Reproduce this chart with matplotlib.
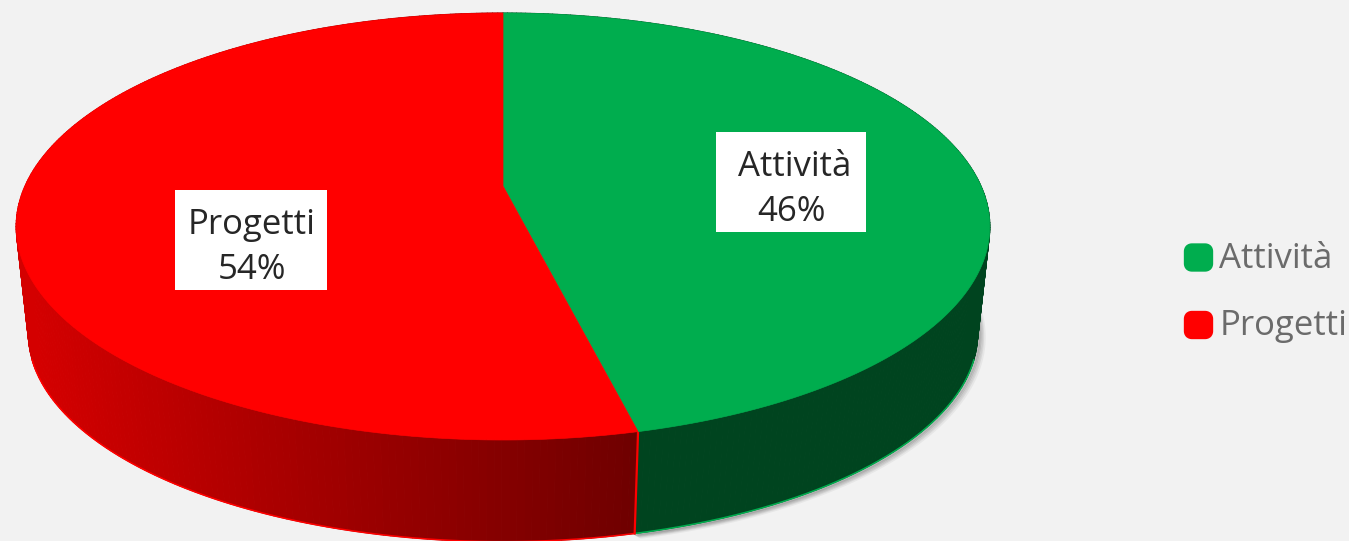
import numpy as np
import matplotlib
matplotlib.use("Agg")
import matplotlib.pyplot as plt
from matplotlib.collections import PolyCollection
from matplotlib.patches import FancyBboxPatch, Polygon, Rectangle

categories = ["Attività", "Progetti"]
values = [46.3, 53.7]
face_colors = ["#00AD4E", "#FF0000"]

FONT = "Open Sans"
FS = 25
W, H = 1349, 541
fig = plt.figure(figsize=(W / 100, H / 100), dpi=100, facecolor="#F2F2F2")
ax = fig.add_axes([0, 0, 1, 1])
ax.set_xlim(0, W)
ax.set_ylim(H, 0)
ax.axis("off")

# Perspective projection of a tilted disc onto the picture
k = 81 / 427
X0, Y0 = 503, 186
a, b = 478, 205.8
BOTTOM_Y0, BOTTOM_SCALE = 294, 0.975
RIM_LIMITS = (0.60 * np.pi, 1.40 * np.pi)


def project(t, y0=Y0, s=1.0):
    u, v = np.sin(t), np.cos(t)
    d = 1 + k * v
    return X0 + s * a * u / d, y0 - s * b * v / d


def points(t0, t1, n=400, y0=Y0, s=1.0):
    x, y = project(np.linspace(t0, t1, n), y0, s)
    return np.column_stack([x, y])


fractions = np.array(values) / sum(values)
angles = np.concatenate([[0], np.cumsum(fractions)]) * 2 * np.pi
split = angles[1]


def wall_colour(i, x):
    if i == 1:
        level = np.interp(x, [30, 300, 630], [0xD4, 0xA5, 0x70]) / 255
        return (level, 0, 0)
    return (0, 0x44 / 255, 0x1F / 255)


# Soft shadow to the lower right of the green wall
arc = points(0.46 * np.pi, split, 200, BOTTOM_Y0, BOTTOM_SCALE)
for off, alpha in zip([8, 6, 4.5, 3, 1.5], [0.07, 0.10, 0.13, 0.17, 0.22]):
    ax.plot(arc[:, 0] + off * 0.8, arc[:, 1] + off * 0.45, color="#505050",
            lw=2.4, alpha=alpha, zorder=1, solid_capstyle="round")

# Side wall strips
for i in range(len(values)):
    edges = np.linspace(angles[i], angles[i + 1], 260)
    polys, cols = [], []
    for t0, t1 in zip(edges[:-1], edges[1:]):
        xa, ya = project(np.array([t0, t1]))
        xb, yb = project(np.array([t1, t0]), BOTTOM_Y0, BOTTOM_SCALE)
        polys.append(np.column_stack([np.r_[xa, xb], np.r_[ya, yb]]))
        cols.append(wall_colour(i, xa.mean()))
    ax.add_collection(PolyCollection(polys, facecolors=cols, edgecolors=cols,
                                     linewidths=0.8, zorder=2 + (i == 0)))
    rim = points(max(angles[i], RIM_LIMITS[0]), min(angles[i + 1], RIM_LIMITS[1]),
                 300, BOTTOM_Y0, BOTTOM_SCALE)
    ax.plot(rim[:, 0], rim[:, 1], color=face_colors[i], lw=1.1, zorder=4)

# Bright seam where the two walls meet
xa, ya = project(split)
xb, yb = project(split, BOTTOM_Y0, BOTTOM_SCALE)
ax.plot([xa, xb], [ya, yb], color="#FF0000", lw=1.6, zorder=4)

# Top faces
for i in range(len(values)):
    pts = np.vstack([[X0, Y0], points(angles[i], angles[i + 1])])
    ax.add_patch(Polygon(pts, closed=True, facecolor=face_colors[i],
                         edgecolor=face_colors[i], lw=0.5, zorder=5))

# Data labels: box, then name and percentage on their baselines
boxes = [(716, 132, 150, 100), (175, 190, 152, 100)]
name_anchor = [(794.5, 176), (252, 234)]
pct_anchor = [(791, 221), (252, 279)]
for name, val, (bx, by, bw, bh), na, pa in zip(categories, values, boxes, name_anchor, pct_anchor):
    ax.add_patch(Rectangle((bx, by), bw, bh, facecolor="white", edgecolor="none", zorder=6))
    ax.text(na[0], na[1], name, ha="center", va="baseline", fontsize=FS,
            family=FONT, color="#262626", zorder=7)
    ax.text(pa[0], pa[1], f"{round(val)}%", ha="center", va="baseline", fontsize=FS,
            family=FONT, color="#262626", zorder=7)

# Legend
legend_y = [257.5, 325]
legend_x = [1219, 1220]
legend_base = [268, 335]
for name, col, y, tx, ty in zip(categories, face_colors, legend_y, legend_x, legend_base):
    ax.add_patch(FancyBboxPatch((1188, y - 10), 21, 20, boxstyle="round,pad=0,rounding_size=4",
                                mutation_aspect=1, facecolor=col, edgecolor=col, lw=6,
                                joinstyle="round", zorder=6))
    ax.text(tx, ty, name, ha="left", va="baseline", fontsize=FS,
            family=FONT, color="#6B6B6B", zorder=7)

fig.savefig("out.png", dpi=100, facecolor=fig.get_facecolor())
